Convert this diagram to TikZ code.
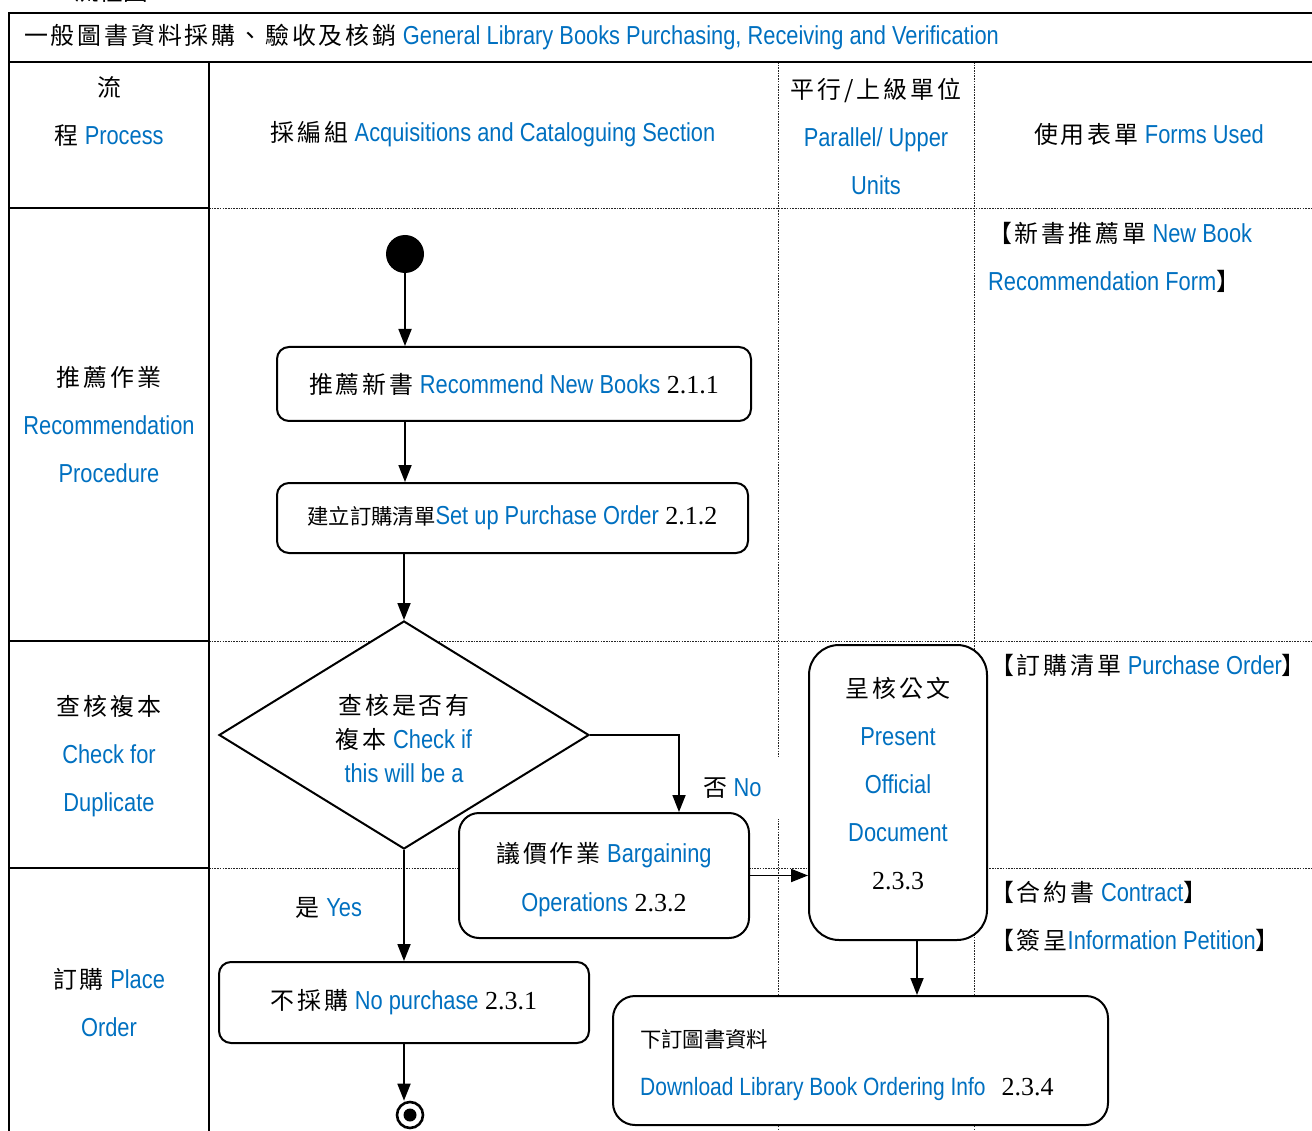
\documentclass[tikz,border=0pt]{standalone}
\usepackage{fontspec}
\usetikzlibrary{shapes.geometric,arrows.meta,calc}
\setmainfont{Liberation Serif}
\newfontfamily\cjkf[Scale=0.92,LetterSpace=12]{Noto Sans CJK TC}
\newfontfamily\cjkt[Scale=0.82]{Noto Sans CJK TC}
\newfontfamily\enf[FakeStretch=0.84]{Liberation Sans}
\definecolor{eblue}{HTML}{0070C0}
\newcommand\zh[1]{{\cjkf #1}}
\newcommand\zht[1]{{\cjkt #1}}
\newcommand\en[1]{{\enf\color{eblue}#1}}
\begin{document}
\begin{tikzpicture}[x=1pt,y=-1pt,
  every node/.style={font=\fontsize{26}{48}\selectfont, inner sep=0pt},
  frame/.style={line width=2.6pt},
  grid/.style={line width=0.9pt, dash pattern=on 1.6pt off 1.1pt, draw=black!85},
  act/.style={draw, line width=2pt, fill=white, rounded corners=12pt},
  arr/.style={line width=1.8pt, -{Triangle[length=17pt,width=13pt]}}]
\useasboundingbox (0,0) rectangle (1312,1131);
% clipped heading above the table
\node (head) [anchor=south west, font=\fontsize{30}{30}\selectfont] at (74,3) {\zht{流程圖}};
% grid
\draw[grid] (209,208) -- (1312,208);
\draw[grid] (209,641) -- (1312,641);
\draw[grid] (209,868) -- (1312,868);
\draw[grid] (778,62) -- (778,1131);
\draw[grid] (974,62) -- (974,1131);
% frame
\draw[frame] (1312,13) -- (9,13) -- (9,1131);
\draw[frame] (9,62) -- (1312,62);
\draw[frame] (209,62) -- (209,1131);
\draw[frame] (9,208) -- (209,208);
\draw[frame] (9,641) -- (209,641);
\draw[frame] (9,868) -- (209,868);
% headers
\node (title) [anchor=west] at (24,37) {\zh{一般圖書資料採購、驗收及核銷} \en{General Library Books Purchasing, Receiving and Verification}};
\node (hproc) [align=center] at (109,111) {\zh{流}\\\zh{程} \en{Process}};
\node (hacq) at (493,134) {\zh{採編組} \en{Acquisitions and Cataloguing Section}};
\node (hpar) [align=center] at (876,136) {\zh{平行/上級單位}\\\en{Parallel/ Upper}\\\en{Units}};
\node (hform) at (1149,134) {\zh{使用表單} \en{Forms Used}};
% process column
\node (p1) [align=center] at (109,425) {\zh{推薦作業}\\\en{Recommendation}\\\en{Procedure}};
\node (p2) [align=center] at (109,756) {\zh{查核複本}\\\en{Check for}\\\en{Duplicate}};
\node (p3) [align=center] at (109,1003) {\zh{訂購} \en{Place}\\\en{Order}};
% forms
\node (f1) [anchor=west, align=flush left] at (988,257) {\zh{【新書推薦單} \en{New Book}\\\en{Recommendation Form}\zh{】}};
\node (f2) [anchor=west] at (990,665) {\zh{【訂購清單} \en{Purchase Order}\zh{】}};
\node (f3) [anchor=west] at (990,892) {\zh{【合約書} \en{Contract}\zh{】}};
\node (f4) [anchor=west] at (990,940) {\zh{【簽呈}\en{Information Petition}\zh{】}};
% label no
\node (lno) [anchor=west, fill=white, text width=85pt, minimum height=62pt, align=flush left] at (703,788) {\zh{否} \en{No}};
% flow
\node (start) [circle, fill=black, minimum size=38pt] at (405,254) {};
\node (b1) [act, minimum width=474pt, minimum height=74pt] at (514,384) {\zh{推薦新書} \en{Recommend New Books} 2.1.1};
\node (b2) [act, minimum width=471pt, minimum height=70pt] at (512.5,518) {\zht{建立訂購清單}\en{Set up Purchase Order} 2.1.2};
\node (dia) [diamond, aspect=1.62, draw, line width=2pt, fill=white, minimum width=370pt, minimum height=228pt] at (404,735) {};
\node (diat) [align=center, font=\fontsize{26}{34}\selectfont] at ($(dia.center)+(0,4)$) {\zh{查核是否有}\\\zh{複本} \en{Check if}\\\en{this will be a}};
\node (b3) [act, rounded corners=20pt, minimum width=290pt, minimum height=125pt] at (604,875.5) {};
\node (b3t) [align=center, font=\fontsize{26}{49}\selectfont] at ($(b3.center)+(0,4)$) {\zh{議價作業} \en{Bargaining}\\\en{Operations} 2.3.2};
\node (b4) [act, rounded corners=30pt, minimum width=178pt, minimum height=295pt, align=center] at (898,792.5) {\zh{呈核公文}\\\en{Present}\\\en{Official}\\\en{Document}\\2.3.3\\[-30pt]\mbox{}};
\node (yes) at (329,908) {\zh{是} \en{Yes}};
\node (b5) [act, minimum width=370pt, minimum height=81pt] at (404,1002.5) {\zh{不採購} \en{No purchase} 2.3.1};
\node (b6) [act, rounded corners=22pt, minimum width=495pt, minimum height=129pt] at (860.5,1060.5) {};
\node (b6t) [anchor=west, align=flush left] at ($(b6.west)+(28,5)$) {\zht{下訂圖書資料}\\{\fontsize{25}{48}\selectfont\en{Download Library Book Ordering Info}}\hspace{16pt}2.3.4};
\node (end) [circle, draw, line width=2.6pt, minimum size=26pt, path picture={\fill (path picture bounding box.center) circle (6.5pt);}] at (410,1115) {};
% connectors
\coordinate (turn) at (679,735);
\coordinate (xr) at (917,0);
\draw[arr] (start.south) -- (start.south |- b1.north);
\draw[arr] (b1.south -| start) -- (b2.north -| start);
\draw[arr] (b2.south -| dia.north) -- (dia.north);
\draw[arr] (dia.east) -- (turn) -- (turn |- b3.north);
\draw[arr] (b3.east) -- (b4.west |- b3.east);
\draw[arr] (b4.south -| xr) -- (b6.north -| xr);
\draw[arr] (dia.south) -- (b5.north -| dia.south);
\draw[arr] (b5.south) -- (b5.south |- end.north);
\end{tikzpicture}
\end{document}
